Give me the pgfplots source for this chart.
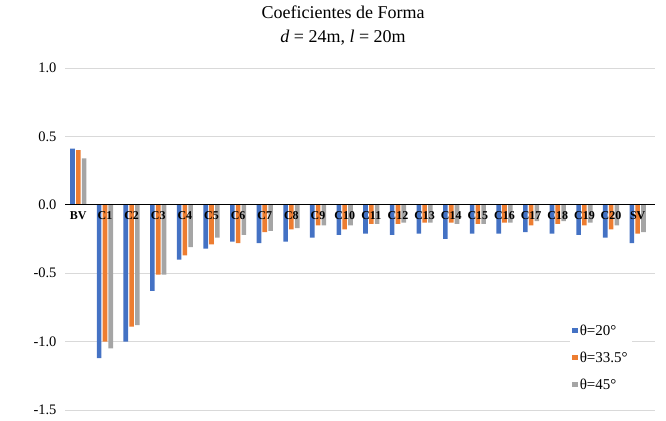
\documentclass[border=0pt]{standalone}
\usepackage{pgfplots}
\pgfplotsset{compat=1.18}
\usepackage{fontspec}
\setmainfont{Liberation Serif}

\definecolor{cBlue}{HTML}{4472C4}
\definecolor{cOrange}{HTML}{ED7D31}
\definecolor{cGray}{HTML}{A5A5A5}
\definecolor{cGrid}{HTML}{D9D9D9}

\pgfplotsset{
  frame/.style={
    at={(65pt,10pt)}, anchor=south west,
    scale only axis, width=590pt, height=342pt,
    xmin=-0.5, xmax=21.65, ymin=-1.5, ymax=1.0,
  },
}

% coeficientes de forma por secao
\pgfplotstableread{
x  t20   t335  t45
0   0.41  0.40  0.34
1  -1.12 -1.00 -1.05
2  -1.00 -0.89 -0.88
3  -0.63 -0.51 -0.51
4  -0.40 -0.37 -0.31
5  -0.32 -0.29 -0.24
6  -0.27 -0.28 -0.22
7  -0.28 -0.20 -0.19
8  -0.27 -0.18 -0.17
9  -0.24 -0.15 -0.15
10 -0.22 -0.18 -0.15
11 -0.21 -0.14 -0.14
12 -0.22 -0.14 -0.13
13 -0.21 -0.13 -0.13
14 -0.25 -0.13 -0.14
15 -0.21 -0.14 -0.14
16 -0.21 -0.13 -0.13
17 -0.20 -0.15 -0.12
18 -0.21 -0.14 -0.12
19 -0.22 -0.15 -0.13
20 -0.24 -0.18 -0.15
21 -0.28 -0.21 -0.20
}\coef

\begin{document}
\begin{tikzpicture}
% back axis: grid only
\begin{axis}[
  frame,
  axis line style={draw=none},
  xtick=\empty,
  ytick={-1.5,-1,-0.5,0,0.5,1},
  yticklabels={},
  ymajorgrids, grid style={cGrid, line width=0.8pt},
  major tick style={draw=none},
]
\end{axis}

% front axis: bars, zero line, labels, legend
\begin{axis}[
  frame,
  axis on top,
  ybar=1.2pt, bar width=4.6pt,
  axis x line*=middle, axis y line*=left,
  x axis line style={-, black, line width=0.8pt},
  y axis line style={draw=none},
  xtick={0,...,21},
  xticklabels={BV,C1,C2,C3,C4,C5,C6,C7,C8,C9,C10,C11,C12,C13,C14,C15,C16,C17,C18,C19,C20,SV},
  xticklabel style={font=\fontsize{12}{13}\selectfont\bfseries, inner sep=2pt},
  major tick style={draw=none},
  ytick={-1.5,-1,-0.5,0,0.5,1},
  yticklabel style={font=\fontsize{14.5}{16}\selectfont, xshift=-5pt,
    /pgf/number format/.cd, fixed, fixed zerofill, precision=1, assume math mode=true},
  legend style={at={(0.856,0.262)}, anchor=north west, draw=none, fill=white,
    font=\fontsize{15}{16}\selectfont, row sep=11pt, inner sep=2pt},
  legend cell align=left,
  legend image code/.code={\fill[#1] (0pt,-2.5pt) rectangle (5.5pt,3pt);},
]
\addplot[fill=cBlue, draw=none] table[x=x, y=t20] {\coef};
\addplot[fill=cOrange, draw=none] table[x=x, y=t335] {\coef};
\addplot[fill=cGray, draw=none] table[x=x, y=t45] {\coef};
\legend{θ=20°, θ=33.5°, θ=45°}
\end{axis}

\node[align=center, font=\fontsize{18}{24}\selectfont] at (343pt,394pt)
  {Coeficientes de Forma\\\textit{d} = 24m, \textit{l} = 20m};
\path (0,0) rectangle (666pt,420pt);
\end{tikzpicture}
\end{document}
